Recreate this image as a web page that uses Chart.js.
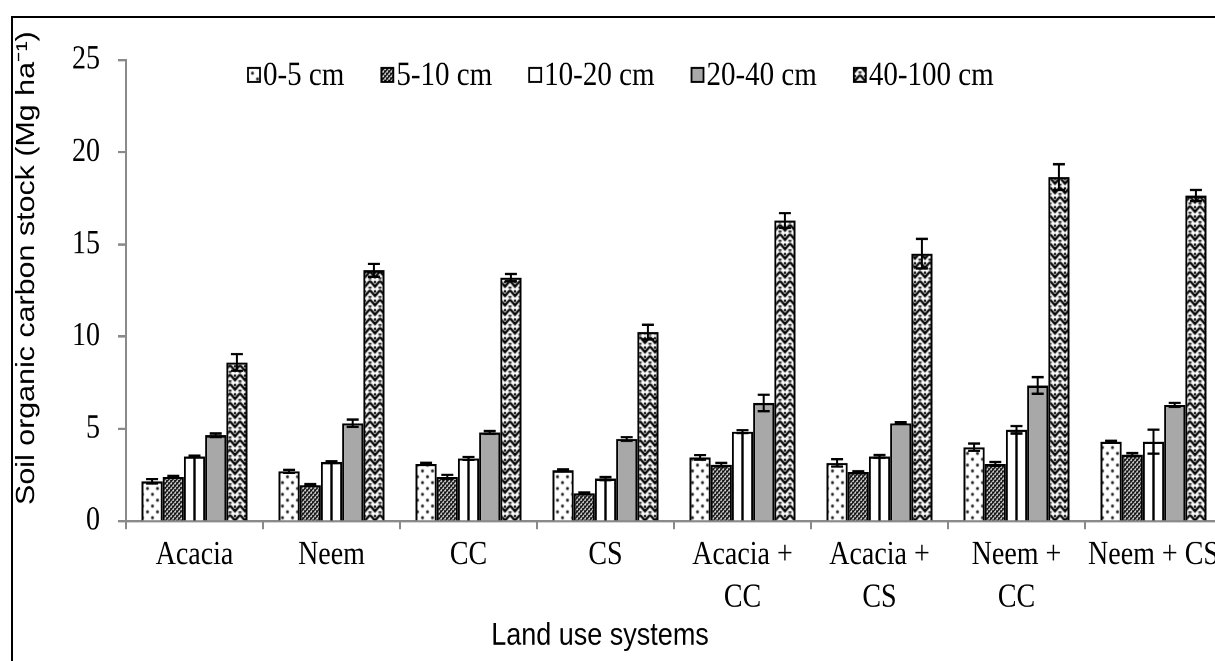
<!DOCTYPE html>
<html>
<head>
<meta charset="utf-8">
<script src="https://cdn.jsdelivr.net/npm/chart.js@4.4.1/dist/chart.umd.min.js"></script>
<style>
  html, body { margin: 0; padding: 0; background: #fff; overflow: hidden; }
  #wrap { position: relative; width: 1215px; height: 661px; overflow: hidden; background: #fff; }
  #stretch { position: absolute; left: 0; top: 0; width: 1240px; height: 565px;
             transform: scale(1, 1.17); transform-origin: 0 0; }
  #chart { width: 1240px; height: 565px; display: block; }
  #frame { position: absolute; left: 11px; top: 16px; width: 1300px; height: 800px;
           border-left: 2px solid #000; border-top: 2px solid #000; pointer-events: none; }
</style>
</head>
<body>
<div id="wrap">
  <div id="stretch"><canvas id="chart" width="1240" height="565"></canvas></div>
  <div id="frame"></div>
</div>
<script>
// Land use systems (x categories)
const landUse = [['Acacia'], ['Neem'], ['CC'], ['CS'], ['Acacia +', 'CC'], ['Acacia +', 'CS'], ['Neem +', 'CC'], ['Neem + CS']];
// Soil depth layers (series)
const depths = ['0-5 cm', '5-10 cm', '10-20 cm', '20-40 cm', '40-100 cm'];

// Soil organic carbon stock (Mg ha-1) per depth layer
const stock0to5    = [2.15, 2.7, 3.1, 2.75, 3.45, 3.15, 4.0, 4.3];
const stock5to10   = [2.4, 1.95, 2.4, 1.5, 3.05, 2.65, 3.1, 3.6];
const stock10to20  = [3.5, 3.2, 3.4, 2.3, 4.85, 3.5, 4.95, 4.3];
const stock20to40  = [4.65, 5.3, 4.8, 4.45, 6.4, 5.3, 7.35, 6.3];
const stock40to100 = [8.6, 13.6, 13.2, 10.25, 16.3, 14.5, 18.65, 17.65];

// Standard errors per depth layer
const se0to5    = [0.12, 0.08, 0.06, 0.05, 0.12, 0.2, 0.2, 0.05];
const se5to10   = [0.05, 0.05, 0.1, 0.05, 0.1, 0.05, 0.1, 0.08];
const se10to20  = [0.05, 0.05, 0.08, 0.08, 0.08, 0.08, 0.2, 0.65];
const se20to40  = [0.1, 0.2, 0.08, 0.1, 0.45, 0.05, 0.45, 0.1];
const se40to100 = [0.45, 0.35, 0.2, 0.4, 0.4, 0.8, 0.7, 0.3];

// Y axis ticks
const yTicks = [0, 5, 10, 15, 20, 25];

const stocks = [stock0to5, stock5to10, stock10to20, stock20to40, stock40to100];
const errors = [se0to5, se5to10, se10to20, se20to40, se40to100];

// ---- fill patterns ----
function makeTile(w, h, draw) {
  const c = document.createElement('canvas');
  c.width = w; c.height = h;
  const g = c.getContext('2d');
  g.fillStyle = '#fff'; g.fillRect(0, 0, w, h);
  draw(g);
  return c;
}
const tmp = document.createElement('canvas').getContext('2d');
const dotsTile = makeTile(10, 10, g => {
  g.fillStyle = '#000';
  [[2.5, 2.5], [7.5, 7.5]].forEach(([x, y]) => { g.beginPath(); g.arc(x, y, 1.35, 0, Math.PI * 2); g.fill(); });
});
const checkTile = makeTile(4, 4, g => {
  g.fillStyle = '#000';
  g.fillRect(0, 0, 2, 2); g.fillRect(2, 2, 2, 2);
  g.fillRect(0, 2, 1, 1); g.fillRect(2, 0, 1, 1);
});
const zigTile = makeTile(10, 8, g => {
  g.strokeStyle = '#000'; g.lineWidth = 2.2;
  g.beginPath();
  g.moveTo(-1, -1); g.lineTo(5, 5); g.lineTo(11, -1);
  g.moveTo(-1, 7); g.lineTo(0, 8);
  g.moveTo(11, 7); g.lineTo(10, 8);
  g.stroke();
  g.fillStyle = '#000';
  g.fillRect(4, 0, 2, 2);
  g.fillRect(0, 5, 1.5, 1.5); g.fillRect(8.5, 5, 1.5, 1.5);
});
const fills = [
  tmp.createPattern(dotsTile, 'repeat'),
  tmp.createPattern(checkTile, 'repeat'),
  '#ffffff',
  '#a8a8a8',
  tmp.createPattern(zigTile, 'repeat')
];

const serif = "'Liberation Serif', 'Times New Roman', serif";
const sans = "'Liberation Sans', Arial, sans-serif";
const axisGrey = '#8a8a8a';

// Vertical rule through the 10-20 cm bars, error bars on every bar
const barDetails = {
  id: 'barDetails',
  afterDatasetsDraw(chart) {
    const ctx = chart.ctx, ys = chart.scales.y;
    ctx.save();
    ctx.strokeStyle = '#000';
    const mid = chart.getDatasetMeta(2);
    ctx.lineWidth = 2.4;
    mid.data.forEach(bar => {
      ctx.beginPath(); ctx.moveTo(bar.x, bar.y); ctx.lineTo(bar.x, bar.base); ctx.stroke();
    });
    ctx.lineWidth = 2;
    chart.data.datasets.forEach((ds, i) => {
      const meta = chart.getDatasetMeta(i);
      meta.data.forEach((bar, j) => {
        const v = ds.data[j], e = errors[i][j];
        const top = ys.getPixelForValue(v + e), bot = ys.getPixelForValue(v - e);
        ctx.beginPath();
        ctx.moveTo(bar.x, top); ctx.lineTo(bar.x, bot);
        ctx.moveTo(bar.x - 6, top); ctx.lineTo(bar.x + 6, top);
        ctx.moveTo(bar.x - 6, bot); ctx.lineTo(bar.x + 6, bot);
        ctx.stroke();
      });
    });
    ctx.restore();
  }
};

// Legend row inside the plot and both axis titles
const keyAndTitles = {
  id: 'keyAndTitles',
  afterDraw(chart) {
    const ctx = chart.ctx;
    ctx.save();
    ctx.font = '29px ' + serif;
    ctx.textBaseline = 'middle';
    let x = 248; const y = 64; const box = 12;
    chart.data.datasets.forEach(ds => {
      ctx.fillStyle = ds.backgroundColor;
      ctx.fillRect(x, y - box / 2, box, box);
      ctx.lineWidth = 1.8; ctx.strokeStyle = '#000';
      ctx.strokeRect(x, y - box / 2, box, box);
      ctx.fillStyle = '#000';
      ctx.fillText(ds.label, x + box + 3, y + 1);
      x += box + 3 + ctx.measureText(ds.label).width + 37;
    });

    ctx.font = '27px ' + sans;
    ctx.textAlign = 'center';
    ctx.fillText('Land use systems', 600, 543.6);

    ctx.translate(27, 431.6);
    ctx.rotate(-Math.PI / 2);
    ctx.font = '26px ' + sans;
    ctx.textAlign = 'left';
    ctx.fillText('Soil organic carbon stock (Mg ha\u207B\u00B9)', 0, 0);
    ctx.restore();
  }
};

new Chart(document.getElementById('chart'), {
  type: 'bar',
  data: {
    labels: landUse,
    datasets: depths.map((d, i) => ({
      label: d,
      data: stocks[i],
      backgroundColor: fills[i],
      borderColor: '#000',
      borderWidth: 2,
      categoryPercentage: 0.774,
      barPercentage: 1.0
    }))
  },
  options: {
    responsive: false,
    maintainAspectRatio: false,
    devicePixelRatio: 2,
    animation: false,
    layout: { padding: { left: 0, top: 51.3, right: 18, bottom: 0 } },
    plugins: { legend: { display: false }, tooltip: { enabled: false } },
    scales: {
      x: {
        grid: { display: true, drawOnChartArea: false, drawTicks: true, tickLength: 7, tickWidth: 2, tickColor: axisGrey, offset: true },
        border: { display: true, color: axisGrey, width: 2 },
        ticks: { font: { family: serif, size: 28, lineHeight: 1.31 }, color: '#000', padding: 4, maxRotation: 0, autoSkip: false },
        afterFit(s) { s.height = 119.7; }
      },
      y: {
        min: 0, max: 25,
        afterBuildTicks(s) { s.ticks = yTicks.map(v => ({ value: v })); },
        grid: { display: true, drawOnChartArea: false, drawTicks: true, tickLength: 8, tickWidth: 2, tickColor: axisGrey },
        border: { display: true, color: axisGrey, width: 2 },
        ticks: { font: { family: serif, size: 28 }, color: '#000', padding: 18 },
        afterFit(s) { s.width = 126; }
      }
    }
  },
  plugins: [barDetails, keyAndTitles]
});
</script>
</body>
</html>
